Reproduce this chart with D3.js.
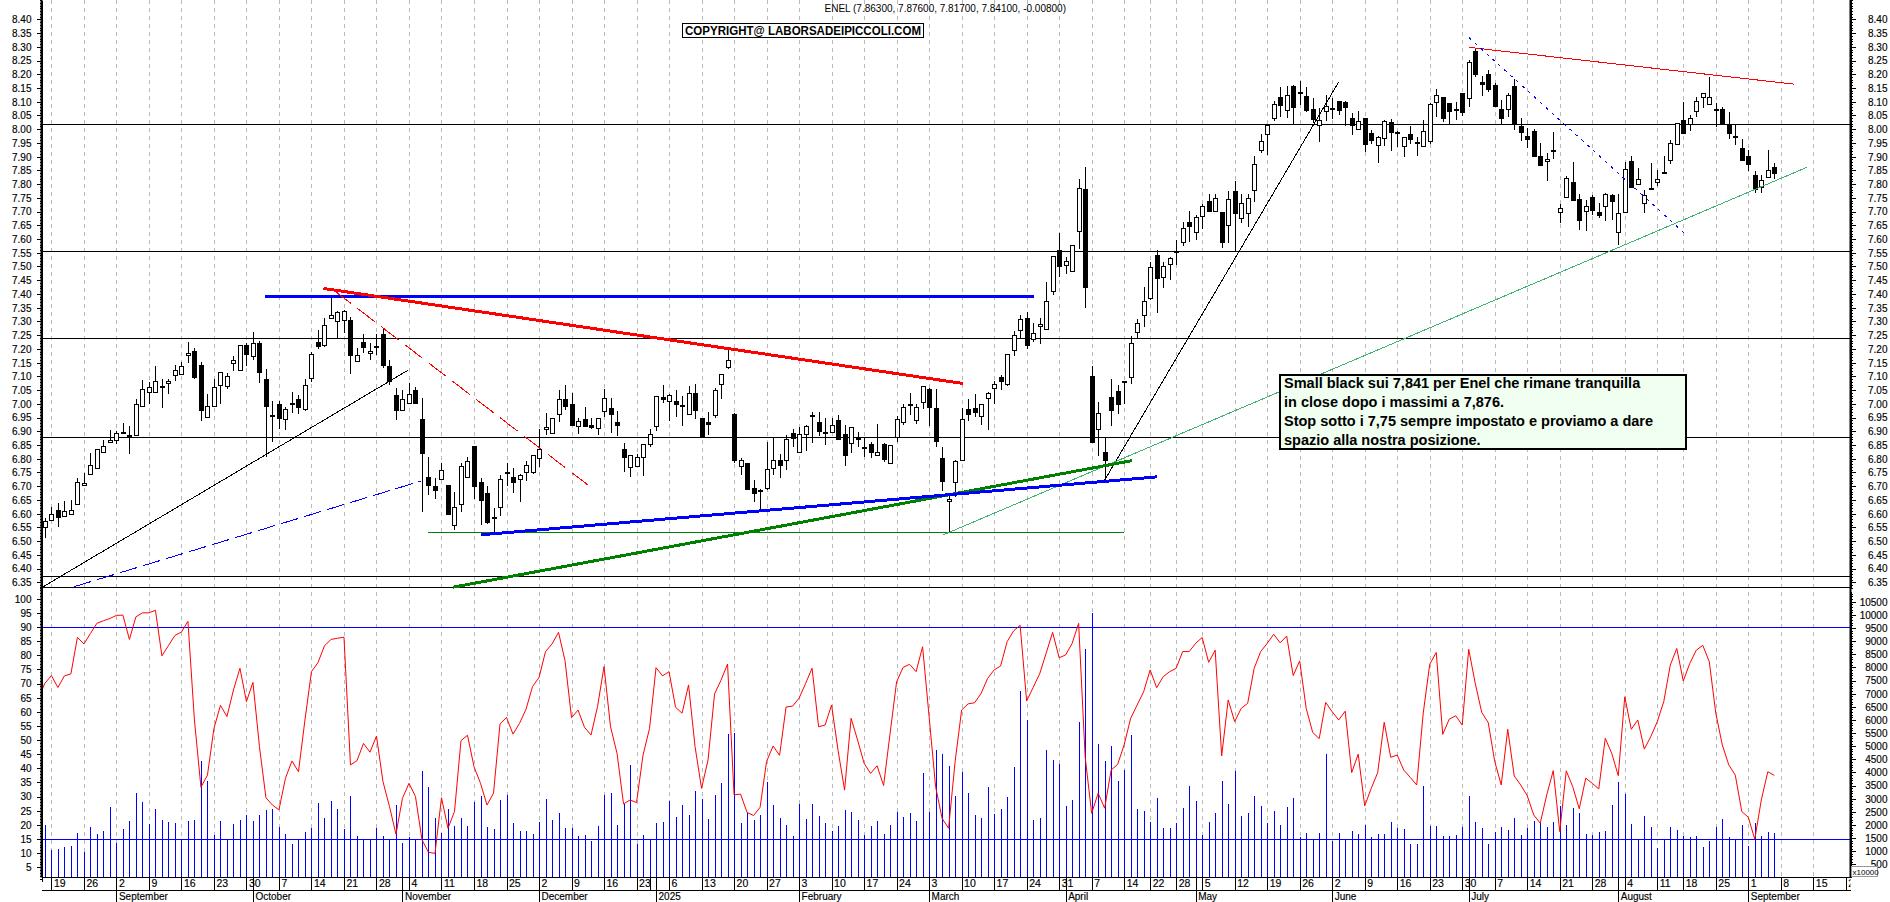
<!DOCTYPE html>
<html>
<head>
<meta charset="utf-8">
<script src="https://cdn.jsdelivr.net/npm/d3@7"></script>
<style>
  html, body { margin: 0; padding: 0; background: #fff; overflow: hidden; }
  svg { display: block; }
  text { font-family: "Liberation Sans", Arial, sans-serif; fill: #000; }
  .tick text { font-size: 10px; stroke: #000; stroke-width: 0.15px; }
  .domain { stroke: #000; }
  .tick line { stroke: #000; }
</style>
</head>
<body>
<div id="chart-area"></div>
<script>
// daily candles, Aug 16 2024 -> Sep 5 2025
let opens = [
  6.552,6.575,6.612,6.590,6.597,6.636,6.703,6.745,6.766,6.827,
  6.859,6.867,6.896,6.886,6.884,6.994,7.040,7.045,7.064,7.078,
  7.102,7.106,7.180,7.191,7.143,6.954,6.994,7.071,7.067,7.147,
  7.125,7.213,7.173,7.220,7.089,6.961,6.998,6.943,7.000,7.016,
  6.982,7.091,7.224,7.216,7.311,7.304,7.307,7.304,7.158,7.224,
  7.183,7.211,7.254,7.136,7.031,6.975,7.000,7.049,6.943,6.732,
  6.699,6.728,6.703,6.561,6.634,6.734,6.848,6.714,6.674,6.586,
  6.625,6.746,6.735,6.727,6.749,6.749,6.801,6.907,6.892,6.961,
  7.016,7.001,6.921,6.943,6.921,6.910,6.976,6.983,6.932,6.834,
  6.768,6.774,6.805,6.856,6.918,7.023,7.012,7.009,6.995,6.961,
  7.038,6.950,6.932,6.961,7.071,7.131,6.963,6.776,6.783,6.692,
  6.686,6.691,6.765,6.794,6.794,6.892,6.825,6.891,6.959,6.932,
  6.896,6.898,6.941,6.889,6.856,6.874,6.841,6.852,6.813,6.853,
  6.787,6.878,6.936,6.995,6.943,7.005,7.054,6.983,6.801,6.646,
  6.716,6.793,6.981,6.983,6.953,7.022,7.056,7.096,7.071,7.198,
  7.267,7.311,7.233,7.282,7.271,7.408,7.559,7.504,7.485,7.628,
  7.782,7.101,6.907,6.823,7.023,7.045,7.084,7.095,7.262,7.321,
  7.386,7.543,7.463,7.511,7.557,7.591,7.661,7.625,7.686,7.738,
  7.701,7.697,7.650,7.774,7.678,7.693,7.777,7.926,7.981,8.042,
  8.116,8.072,8.158,8.135,8.121,8.072,8.015,8.066,8.078,8.104,
  8.099,8.042,8.001,8.039,7.985,7.945,7.965,8.025,7.990,7.936,
  7.981,7.952,7.940,7.954,8.101,8.116,8.094,8.072,8.130,8.116,
  8.285,8.170,8.201,8.160,8.072,8.072,8.157,8.010,7.974,7.993,
  7.901,7.883,7.924,7.701,7.752,7.806,7.744,7.701,7.752,7.697,
  7.722,7.759,7.624,7.701,7.883,7.799,7.730,7.786,7.806,7.845,
  7.886,7.945,8.032,8.017,8.065,8.116,8.090,8.073,8.072,8.016,
  7.976,7.931,7.901,7.832,7.792,7.823,7.863
];
let highs = [
  6.583,6.623,6.637,6.647,6.649,6.728,6.749,6.822,6.834,6.868,
  6.904,6.902,6.929,6.919,7.016,7.086,7.078,7.137,7.092,7.092,
  7.141,7.153,7.225,7.202,7.152,7.035,7.090,7.117,7.113,7.174,
  7.215,7.220,7.262,7.228,7.126,7.010,7.010,6.989,7.043,7.032,
  7.089,7.190,7.268,7.313,7.396,7.339,7.341,7.317,7.202,7.254,
  7.222,7.253,7.275,7.159,7.056,7.050,7.074,7.060,7.020,6.805,
  6.728,6.785,6.703,6.678,6.783,6.805,6.848,6.728,6.700,6.619,
  6.740,6.786,6.768,6.744,6.793,6.813,6.908,6.965,6.947,7.052,
  7.068,7.040,6.947,6.987,6.950,6.950,7.054,7.020,6.975,6.856,
  6.813,6.817,6.853,6.910,7.027,7.068,7.035,7.050,7.029,7.066,
  7.072,6.950,6.969,7.056,7.107,7.198,6.967,6.801,6.783,6.722,
  6.688,6.862,6.880,6.817,6.886,6.907,6.916,6.922,6.969,6.969,
  6.947,6.947,6.961,6.922,6.914,6.896,6.880,6.862,6.926,6.858,
  6.851,6.955,7.001,7.041,7.001,7.066,7.056,7.054,6.844,6.676,
  6.796,6.983,7.017,7.035,7.001,7.044,7.083,7.105,7.180,7.266,
  7.323,7.333,7.293,7.311,7.443,7.537,7.621,7.536,7.580,7.818,
  7.861,7.137,7.005,6.874,7.092,7.068,7.084,7.248,7.309,7.424,
  7.517,7.560,7.517,7.536,7.596,7.663,7.702,7.687,7.727,7.764,
  7.764,7.699,7.775,7.811,7.764,7.764,7.902,7.982,8.016,8.104,
  8.152,8.157,8.161,8.175,8.152,8.112,8.076,8.124,8.112,8.104,
  8.104,8.060,8.067,8.042,7.997,7.975,8.032,8.036,7.994,7.973,
  8.011,7.970,8.033,8.094,8.145,8.118,8.094,8.100,8.130,8.252,
  8.291,8.193,8.215,8.167,8.108,8.130,8.183,8.039,8.003,8.000,
  7.951,7.912,7.990,7.727,7.830,7.880,7.764,7.741,7.760,7.730,
  7.766,7.764,7.764,7.881,7.902,7.857,7.778,7.875,7.851,7.902,
  7.960,8.021,8.098,8.051,8.116,8.133,8.190,8.094,8.082,8.061,
  8.015,7.964,7.924,7.847,7.833,7.923,7.876
];
let lows = [
  6.513,6.574,6.552,6.590,6.597,6.631,6.700,6.743,6.763,6.827,
  6.858,6.852,6.890,6.818,6.884,6.987,6.999,7.045,6.984,7.035,
  7.084,7.105,7.147,7.090,6.938,6.953,6.992,6.999,7.055,7.120,
  7.125,7.137,7.159,7.077,6.807,6.862,6.907,6.904,6.967,6.964,
  6.975,7.080,7.198,7.208,7.310,7.238,7.259,7.108,7.153,7.186,
  7.159,7.177,7.129,7.067,6.941,6.973,6.999,6.999,6.607,6.668,
  6.654,6.726,6.596,6.540,6.607,6.733,6.655,6.558,6.562,6.528,
  6.592,6.700,6.676,6.643,6.720,6.744,6.771,6.886,6.892,6.935,
  6.977,6.919,6.890,6.914,6.910,6.886,6.953,6.895,6.882,6.751,
  6.734,6.773,6.738,6.844,6.901,7.004,6.937,6.953,6.920,6.960,
  6.943,6.884,6.886,6.947,7.017,7.128,6.785,6.740,6.686,6.642,
  6.613,6.686,6.740,6.731,6.759,6.841,6.822,6.829,6.858,6.882,
  6.850,6.895,6.870,6.774,6.822,6.844,6.805,6.801,6.811,6.789,
  6.787,6.862,6.924,6.961,6.925,6.982,6.919,6.841,6.683,6.530,
  6.661,6.793,6.938,6.953,6.922,6.904,6.999,7.050,7.065,7.174,
  7.238,7.198,7.226,7.217,7.268,7.396,7.460,7.472,7.481,7.563,
  7.350,6.862,6.810,6.728,6.920,6.963,7.001,7.071,7.238,7.281,
  7.378,7.332,7.423,7.451,7.505,7.576,7.588,7.596,7.636,7.698,
  7.698,7.568,7.584,7.554,7.659,7.645,7.736,7.912,7.906,8.031,
  8.045,8.039,8.017,8.088,8.061,8.024,7.954,8.031,8.036,8.052,
  8.013,7.979,7.997,7.918,7.945,7.878,7.939,7.922,7.936,7.900,
  7.946,7.903,7.936,7.946,8.045,8.027,8.017,8.033,8.048,8.082,
  8.191,8.122,8.136,8.085,8.014,8.045,7.997,7.956,7.930,7.903,
  7.867,7.812,7.891,7.659,7.748,7.738,7.633,7.630,7.687,7.678,
  7.667,7.671,7.579,7.699,7.788,7.795,7.696,7.783,7.793,7.839,
  7.873,7.942,7.983,7.993,8.045,8.076,8.088,8.009,8.019,7.965,
  7.943,7.888,7.849,7.769,7.769,7.821,7.817
];
let closes = [
  6.574,6.597,6.585,6.608,6.612,6.717,6.710,6.776,6.834,6.848,
  6.867,6.892,6.898,6.878,6.998,7.055,7.060,7.084,7.060,7.084,
  7.122,7.136,7.186,7.095,6.978,6.993,7.062,7.117,7.102,7.158,
  7.215,7.179,7.222,7.113,6.989,6.960,6.946,6.980,7.004,6.986,
  7.069,7.180,7.211,7.288,7.322,7.335,7.339,7.176,7.179,7.204,
  7.191,7.209,7.142,7.083,6.975,7.016,7.034,7.000,6.818,6.702,
  6.683,6.759,6.596,6.625,6.774,6.793,6.701,6.647,6.567,6.584,
  6.727,6.750,6.716,6.742,6.776,6.812,6.834,6.914,6.947,7.016,
  6.989,6.926,6.938,6.919,6.913,6.947,7.022,6.961,6.920,6.804,
  6.812,6.805,6.852,6.891,7.027,7.016,7.033,6.997,6.993,7.038,
  6.975,6.886,6.924,7.052,7.107,7.158,6.796,6.797,6.689,6.672,
  6.683,6.761,6.794,6.774,6.870,6.873,6.891,6.920,6.956,6.898,
  6.892,6.924,6.873,6.811,6.914,6.874,6.837,6.822,6.825,6.800,
  6.851,6.943,6.990,6.999,6.990,7.063,6.989,6.862,6.716,6.655,
  6.793,6.943,6.964,6.970,6.998,7.041,7.071,7.080,7.180,7.252,
  7.307,7.211,7.256,7.289,7.373,7.537,7.499,7.519,7.580,7.784,
  7.426,6.862,6.965,6.795,6.975,6.997,7.080,7.220,7.296,7.373,
  7.499,7.459,7.503,7.532,7.557,7.641,7.648,7.679,7.721,7.701,
  7.748,7.588,7.744,7.693,7.732,7.748,7.872,7.958,8.014,8.093,
  8.086,8.126,8.082,8.133,8.070,8.037,8.033,8.086,8.076,8.070,
  8.082,8.018,8.031,7.943,7.958,7.973,8.028,7.987,7.985,7.970,
  7.963,7.948,7.994,8.090,8.125,8.038,8.064,8.070,8.060,8.246,
  8.202,8.162,8.147,8.085,8.038,8.123,8.017,7.987,7.962,7.903,
  7.867,7.890,7.919,7.714,7.821,7.739,7.667,7.719,7.703,7.687,
  7.765,7.736,7.693,7.856,7.790,7.817,7.760,7.783,7.817,7.841,
  7.948,8.021,7.983,8.039,8.101,8.130,8.116,8.071,8.019,7.987,
  7.974,7.889,7.871,7.780,7.816,7.850,7.841
];

// red oscillator, first value sits one bar before the first candle
let oscillator = [
  64.8,70.1,72.8,68.6,72.7,73.4,86.3,84.0,87.7,91.3,92.2,93.0,94.1,94.2,85.6,93.6,95.0,95.0,95.9,79.8,
  83.4,87.0,88.2,92.0,57.1,33.3,37.6,54.1,62.3,58.3,67.7,75.4,63.6,70.4,47.7,29.6,27.0,25.3,36.5,42.6,
  38.8,57.1,74.2,77.4,83.3,85.6,86.0,86.4,41.2,42.7,48.8,45.7,51.4,35.3,26.5,16.7,29.4,34.7,30.0,14.7,
  10.3,9.9,29.6,18.8,24.7,49.8,51.7,40.6,34.7,27.0,31.2,55.7,58.0,52.1,55.9,60.9,68.9,72.1,81.3,84.0,
  88.1,78.1,57.9,60.6,54.5,51.8,61.8,76.0,54.7,45.3,27.4,28.8,27.9,44.7,54.1,75.6,72.7,74.2,61.6,59.5,
  69.5,47.7,32.9,43.0,66.3,71.2,76.9,30.6,30.9,24.4,23.3,26.2,42.4,47.9,44.6,61.7,62.0,64.8,70.0,75.4,
  54.7,55.3,62.4,46.3,32.3,57.7,50.0,41.8,38.2,40.9,33.9,52.4,70.6,75.7,76.8,74.2,83.0,58.3,33.5,22.3,
  18.8,42.4,60.6,62.8,63.2,66.5,71.8,74.8,76.2,84.8,88.6,90.6,63.8,68.6,73.4,80.7,88.1,79.1,80.1,84.2,
  91.3,44.1,24.1,31.2,25.9,39.4,41.4,48.3,57.7,62.4,67.1,74.8,68.5,72.4,74.2,75.4,81.3,81.3,84.2,86.3,
  77.5,81.8,44.4,64.2,56.5,61.2,63.0,75.4,81.3,84.2,87.4,84.4,86.8,72.8,78.0,61.2,52.7,50.5,63.3,60.0,
  57.1,60.2,38.5,45.0,26.7,32.9,38.5,56.3,43.9,44.7,39.4,36.8,34.1,59.5,76.8,81.0,52.0,57.4,58.6,55.3,
  82.1,70.1,59.8,56.2,42.4,34.1,53.8,37.3,34.1,30.3,23.5,20.6,30.6,39.2,17.6,39.1,33.5,25.7,36.5,34.7,
  32.7,50.6,45.3,37.4,65.3,53.8,57.1,46.8,51.2,56.5,63.6,76.5,82.4,70.9,77.1,81.8,83.5,77.7,59.5,48.3,
  41.2,37.6,24.7,22.7,14.9,28.8,38.8,37.5
];

// volume, axis is x10000
let volumes = [
  1990,1040,1080,1170,1205,1700,980,1930,1650,1780,2680,1320,1840,2140,3200,2880,2030,2600,2180,2120,
  2080,1430,2140,2180,4430,3670,1610,2140,1480,2030,2180,2370,2140,2370,2560,2600,1930,1650,1290,1480,
  1740,1880,2840,2270,2910,2600,1840,3100,1570,1480,1480,1890,1570,1480,2750,1320,1550,1420,4050,3430,
  2270,1680,2600,1950,2270,1950,2870,3100,1930,1840,2940,3130,2080,1760,1760,1650,2120,2980,2180,2450,
  1890,1890,1570,1610,1400,1950,3130,3200,1990,2780,4280,1270,1610,1420,2080,2120,2910,2310,2750,2370,
  3290,3000,2220,3130,3580,5460,5510,2060,2460,2180,2370,3630,2750,2270,1990,1570,2790,2220,2790,2340,
  2080,1760,1950,2560,2490,2180,1610,1950,2140,1650,1990,2490,2300,2450,2140,3970,2490,4850,4700,4240,
  3100,4010,3210,2370,2260,3440,2410,2600,3060,4200,7090,5990,2180,2260,4850,4470,4310,2720,2940,5910,
  8690,10060,5080,4430,5000,3670,4090,5420,2600,2530,2120,3020,1880,1880,2070,2640,3480,2910,1610,2110,
  2450,3670,2790,4050,2340,2450,3100,2720,2070,2530,1990,2680,3020,1540,1690,1480,1690,4700,1380,1690,
  1480,1760,1650,1990,1540,1650,1650,2110,1880,1840,1270,1270,3480,1950,1950,1570,1570,1610,1920,3100,
  2110,1880,1270,1730,1920,1800,2260,1610,1880,2140,2070,1920,2110,2720,1990,2640,2450,1650,1610,1730,
  1760,2750,3630,3170,2030,1480,2340,1920,1120,1480,1920,1800,1570,1540,1570,1150,1380,1920,2220,1540,
  1480,1990,1190,2070,1570,1730,1690
];

// horizontal levels
let priceLevels = [8.0176, 7.555, 7.238, 6.88, 6.372];
let oscLevels = [90, 15];

// axis labels
let priceTicks = d3.range(6.35, 8.401, 0.05);
let oscTicks = d3.range(5, 101, 5);
let volTicks = d3.range(500, 10501, 500);

let weekBars = [1,6,11,16,21,26,31,36,41,46,51,56,61,66,71,76,81,86,91,93,96,101,106,111,116,121,126,131,136,141,146,151,156,161,166,170,174,178,183,188,193,198,203,208,213,218,223,228,233,238,243,248,252,257,262,267,272,277];
let weekLabels = ["19","26","2","9","16","23","30","7","14","21","28","4","11","18","25","2","9","16","23","","6","13","20","27","3","10","17","24","3","10","17","24","31","7","14","22","28","5","12","19","26","2","9","16","23","30","7","14","21","28","4","11","18","25","1","8","15","22"];
let monthBars = [11,32,55,76,94,116,136,157,177,198,219,242,262];
let monthLabels = ["September","October","November","December","2025","February","March","April","May","June","July","August","September"];

// trend lines: bar index and price at each end
let blackThin = [[-0.4, 6.332, 55.9, 7.123], [163, 6.722, 199, 8.172]];
let redThick = [[42.85, 7.42, 141.2, 7.074]];
let blueThick = [[33.9, 7.389, 152.1, 7.389], [67.1, 6.523, 171.1, 6.734]];
let greenThick = [[62.75, 6.332, 167.2, 6.793]];
let greenThin = [[58.9, 6.532, 166, 6.532]];
let seaGreen = [[138.1, 6.522, 271, 7.861]];
let redThin = [[219, 8.298, 269, 8.164]];
let redDashed = [[44.4, 7.414, 83.6, 6.703]];
let blueDashed = [[4.5, 6.334, 57.9, 6.719]];
let blueDotted = [[219, 8.334, 252.6, 7.612]];

let title = "ENEL (7.86300, 7.87600, 7.81700, 7.84100, -0.00800)";
let copyright = "COPYRIGHT@ LABORSADEIPICCOLI.COM";
let note = [
  "Small black sui 7,841 per Enel che rimane tranquilla",
  "in close dopo i massimi a 7,876.",
  "Stop sotto i 7,75 sempre impostato e proviamo a dare",
  "spazio alla nostra posizione."
];

let width = 1890, height = 902;
let left = 41.5, right = 1850.5, panelBottom = 587.5, plotBottom = 877.5, dateBottom = 890.5;

let svg = d3
  .select("#chart-area")
  .append("svg")
  .attr("width", width)
  .attr("height", height);

svg.append("clipPath").attr("id", "plot")
  .append("rect").attr("x", left).attr("y", 0).attr("width", right - left).attr("height", plotBottom);
svg.append("clipPath").attr("id", "dates")
  .append("rect").attr("x", left).attr("y", plotBottom).attr("width", right - left).attr("height", height - plotBottom);

let xScale = d3.scaleLinear().domain([0, 266]).range([44.9, 1774.3]);
let yPrice = d3.scaleLinear().domain([6.33, 8.4703]).range([panelBottom + 0.3, 0]);
let yOsc = d3.scaleLinear().domain([0, 104]).range([881.4, 587.4]);
let yVol = d3.scaleLinear().domain([0, 10900]).range([plotBottom, 591.2]);

let crisp = v => Math.round(v) + 0.5;

// dashed week grid
svg.append("g").selectAll("line")
  .data(weekBars.filter((d, i) => weekLabels[i] !== "" && d < 277))
  .enter().append("line")
  .attr("x1", d => crisp(xScale(d)))
  .attr("x2", d => crisp(xScale(d)))
  .attr("y1", 0)
  .attr("y2", plotBottom)
  .attr("stroke", "#b8b8b8")
  .attr("stroke-dasharray", "4,4")
  .attr("shape-rendering", "crispEdges");

// flat levels
svg.append("g").selectAll("line")
  .data(priceLevels.concat([6.332]))
  .enter().append("line")
  .attr("x1", left).attr("x2", right)
  .attr("y1", d => crisp(yPrice(d))).attr("y2", d => crisp(yPrice(d)))
  .attr("stroke", "#000")
  .attr("shape-rendering", "crispEdges");

let bars = d3.range(opens.length);

// volume sticks
svg.append("g").selectAll("line")
  .data(bars)
  .enter().append("line")
  .attr("x1", i => crisp(xScale(i)))
  .attr("x2", i => crisp(xScale(i)))
  .attr("y1", plotBottom)
  .attr("y2", i => yVol(volumes[i]))
  .attr("stroke", "#0000ff")
  .attr("shape-rendering", "crispEdges");

svg.append("g").selectAll("line")
  .data(oscLevels)
  .enter().append("line")
  .attr("x1", left).attr("x2", right)
  .attr("y1", d => crisp(yOsc(d))).attr("y2", d => crisp(yOsc(d)))
  .attr("stroke", "#0000ff")
  .attr("shape-rendering", "crispEdges");

let oscLine = d3.line()
  .x((d, i) => xScale(i - 1))
  .y(d => yOsc(d));

svg.append("path")
  .datum(oscillator)
  .attr("d", oscLine)
  .attr("clip-path", "url(#plot)")
  .attr("fill", "none")
  .attr("stroke", "#ff0000")
  .attr("stroke-width", 1);

// candles
let candles = svg.append("g").attr("shape-rendering", "crispEdges");

candles.selectAll(".wick")
  .data(bars)
  .enter().append("line")
  .attr("class", "wick")
  .attr("x1", i => crisp(xScale(i)))
  .attr("x2", i => crisp(xScale(i)))
  .attr("y1", i => yPrice(highs[i]))
  .attr("y2", i => yPrice(lows[i]))
  .attr("stroke", "#000");

candles.selectAll(".body")
  .data(bars)
  .enter().append("rect")
  .attr("class", "body")
  .attr("x", i => crisp(xScale(i)) - 2)
  .attr("width", 4)
  .attr("y", i => crisp(yPrice(Math.max(opens[i], closes[i]))))
  .attr("height", i => Math.max(1, Math.round(Math.abs(yPrice(opens[i]) - yPrice(closes[i])))))
  .attr("fill", i => closes[i] >= opens[i] ? "#fff" : "#000")
  .attr("stroke", "#000");

// trend lines, aliased like the original
function drawLines(data, color, size, dash) {
  svg.append("g").selectAll("line")
    .data(data)
    .enter().append("line")
    .attr("x1", d => xScale(d[0]))
    .attr("y1", d => yPrice(d[1]))
    .attr("x2", d => xScale(d[2]))
    .attr("y2", d => yPrice(d[3]))
    .attr("stroke", color)
    .attr("stroke-width", size)
    .attr("stroke-dasharray", dash)
    .attr("shape-rendering", "crispEdges");
}

drawLines(greenThin, "#008000", 1, null);
drawLines(blackThin, "#000", 1, null);
drawLines(seaGreen, "#3cb371", 1, null);
drawLines(greenThick, "#008000", 3, null);
drawLines(blueThick, "#0000ff", 3, null);
drawLines(redThick, "#ff0000", 3, null);
drawLines(redThin, "#ff0000", 1, null);
drawLines(redDashed, "#ff0000", 1, "22,8");
drawLines(blueDashed, "#0000ff", 1, "18,6");
drawLines(blueDotted, "#0000ff", 1, "3,5");

// price axes
function styleAxis(g, labelX, anchor) {
  g.selectAll(".tick text")
    .attr("x", labelX)
    .attr("dy", "0.34em")
    .style("text-anchor", anchor);
  g.attr("shape-rendering", "crispEdges");
}

function minorAxis(axisFn, pos, scale, values, size) {
  svg.append("g")
    .attr("transform", "translate(" + pos + ",0)")
    .attr("shape-rendering", "crispEdges")
    .call(axisFn(scale).tickValues(values).tickSize(size).tickFormat("").tickSizeOuter(0));
}

let priceMinor = d3.range(6.33, 8.47, 0.01);
let oscMinor = d3.range(1, 105, 1);
let volMinor = d3.range(100, 10900, 100);

minorAxis(d3.axisLeft, left, yPrice, priceMinor, 2);
minorAxis(d3.axisRight, right, yPrice, priceMinor, 2);
minorAxis(d3.axisLeft, left, yOsc, oscMinor, 2);
minorAxis(d3.axisRight, right, yVol, volMinor, 2);

svg.append("g")
  .attr("transform", "translate(" + left + ",0)")
  .call(d3.axisLeft(yPrice).tickValues(priceTicks).tickSize(5).tickFormat(d3.format(".2f")).tickSizeOuter(0))
  .call(g => styleAxis(g, -10, "end"));

svg.append("g")
  .attr("transform", "translate(" + right + ",0)")
  .call(d3.axisRight(yPrice).tickValues(priceTicks).tickSize(5).tickFormat(d3.format(".2f")).tickSizeOuter(0))
  .call(g => styleAxis(g, 37, "end"));

svg.append("g")
  .attr("transform", "translate(" + left + ",0)")
  .call(d3.axisLeft(yOsc).tickValues(oscTicks).tickSize(5).tickSizeOuter(0))
  .call(g => styleAxis(g, -10, "end"));

svg.append("g")
  .attr("transform", "translate(" + right + ",0)")
  .call(d3.axisRight(yVol).tickValues(volTicks).tickSize(5).tickFormat(d3.format("d")).tickSizeOuter(0))
  .call(g => styleAxis(g, 37, "end"));

// thicker axis spines, full height
[left, right].forEach(function(d) {
  svg.append("line")
    .attr("x1", d).attr("x2", d)
    .attr("y1", 0).attr("y2", plotBottom)
    .attr("stroke", "#000").attr("stroke-width", 2);
});

// date rows
let dateG = svg.append("g").attr("clip-path", "url(#dates)");

dateG.append("g")
  .attr("transform", "translate(0," + plotBottom + ")")
  .attr("shape-rendering", "crispEdges")
  .call(d3.axisBottom(xScale).tickValues(weekBars).tickSize(13).tickSizeOuter(0)
    .tickFormat((d, i) => weekLabels[i]))
  .call(g => g.select(".domain").remove())
  .call(g => g.selectAll(".tick text")
    .attr("x", 2).attr("y", 6).attr("dy", "0.34em")
    .style("text-anchor", "start").style("font-size", "10.5px"));

dateG.append("g")
  .attr("transform", "translate(0," + plotBottom + ")")
  .attr("shape-rendering", "crispEdges")
  .call(d3.axisBottom(xScale).tickValues(monthBars).tickSize(25).tickSizeOuter(0)
    .tickFormat((d, i) => monthLabels[i]))
  .call(g => g.select(".domain").remove())
  .call(g => g.selectAll(".tick text")
    .attr("x", 2).attr("y", 19.5).attr("dy", "0.34em")
    .style("text-anchor", "start").style("font-size", "10px"));

[plotBottom, dateBottom].forEach(function(d) {
  svg.append("line")
    .attr("x1", left).attr("x2", right)
    .attr("y1", d).attr("y2", d)
    .attr("stroke", "#000")
    .attr("shape-rendering", "crispEdges");
});

// x10000 tag
svg.append("rect")
  .attr("x", 1851.5).attr("y", 866.5).attr("width", 26).attr("height", 10)
  .attr("fill", "#fff").attr("stroke", "#999").attr("shape-rendering", "crispEdges");
svg.append("text")
  .attr("x", 1852.5).attr("y", 874.5)
  .style("font-size", "8px")
  .text("x10000");

// header
svg.append("text")
  .attr("x", 824.5).attr("y", 11.5)
  .style("font-size", "10px")
  .text(title);

svg.append("rect")
  .attr("x", 682.5).attr("y", 23.5).attr("width", 241).attr("height", 14)
  .attr("fill", "#fff").attr("stroke", "#000").attr("shape-rendering", "crispEdges");
svg.append("text")
  .attr("x", 685).attr("y", 34.5)
  .attr("textLength", 236)
  .attr("lengthAdjust", "spacingAndGlyphs")
  .style("font-size", "12px").style("font-weight", "bold")
  .text(copyright);

// comment box
svg.append("rect")
  .attr("x", 1280).attr("y", 375).attr("width", 406).attr("height", 74)
  .attr("fill", "#f0fff0").attr("stroke", "#000").attr("stroke-width", 2)
  .attr("shape-rendering", "crispEdges");

svg.selectAll(".note")
  .data(note)
  .enter().append("text")
  .attr("class", "note")
  .attr("x", 1284)
  .attr("y", (d, i) => 388 + i * 19)
  .style("font-size", "14.5px").style("font-weight", "bold")
  .text(d => d);
</script>
</body>
</html>
